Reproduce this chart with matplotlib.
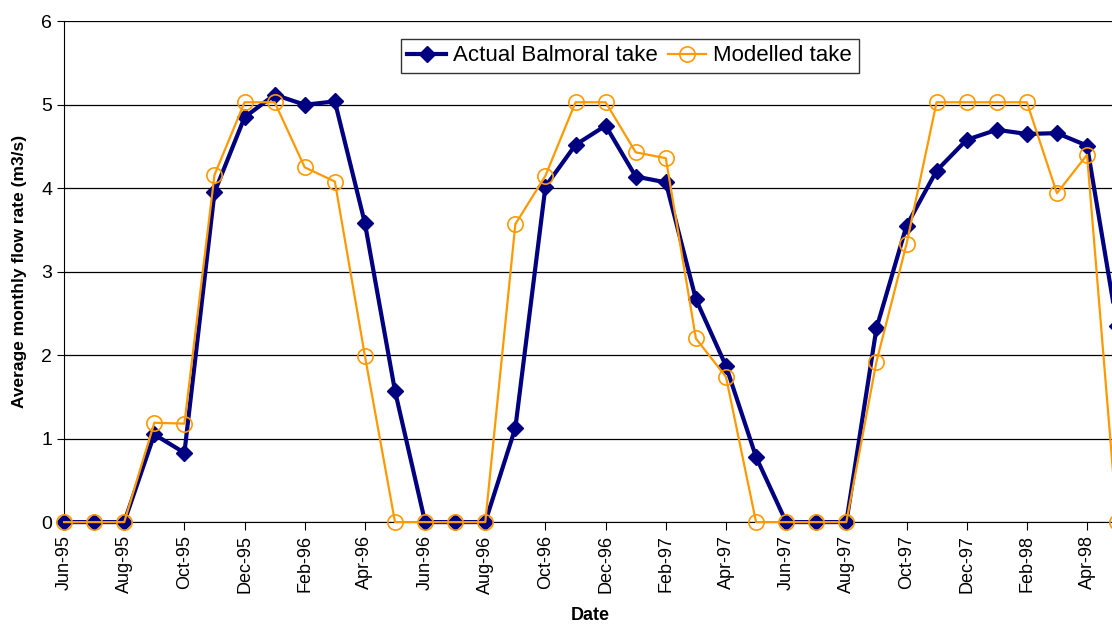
import matplotlib
matplotlib.use('Agg')
import matplotlib.pyplot as plt
import numpy as np

plt.rcParams['font.family'] = ['Liberation Sans', 'DejaVu Sans']

months = ['Jun-95', 'Jul-95', 'Aug-95', 'Sep-95', 'Oct-95', 'Nov-95', 'Dec-95',
          'Jan-96', 'Feb-96', 'Mar-96', 'Apr-96', 'May-96', 'Jun-96', 'Jul-96',
          'Aug-96', 'Sep-96', 'Oct-96', 'Nov-96', 'Dec-96', 'Jan-97', 'Feb-97',
          'Mar-97', 'Apr-97', 'May-97', 'Jun-97', 'Jul-97', 'Aug-97', 'Sep-97',
          'Oct-97', 'Nov-97', 'Dec-97', 'Jan-98', 'Feb-98', 'Mar-98', 'Apr-98',
          'May-98']
actual = [0, 0, 0, 1.05, 0.83, 3.95, 4.85, 5.12, 5.0, 5.04, 3.58, 1.57,
          0, 0, 0, 1.13, 4.02, 4.52, 4.75, 4.14, 4.07, 2.67, 1.87, 0.78,
          0, 0, 0, 2.32, 3.55, 4.21, 4.58, 4.70, 4.65, 4.66, 4.51, 2.35]
modelled = [0, 0, 0, 1.19, 1.18, 4.16, 5.03, 5.03, 4.25, 4.08, 1.99, 0,
            0, 0, 0, 3.57, 4.15, 5.03, 5.03, 4.43, 4.36, 2.20, 1.74, 0,
            0, 0, 0, 1.92, 3.33, 5.03, 5.03, 5.03, 5.03, 3.94, 4.40, 0]

x = np.arange(len(months))

fig = plt.figure(figsize=(11.12, 6.26), dpi=100)
# axes runs a little past the right edge of the figure, as in the original
ax = fig.add_axes([0.0576, 0.166, 0.947, 0.800])

ax.grid(axis='y', color='black', linewidth=0.9)
ax.set_axisbelow(True)

ax.plot(x, actual, color='#000080', linewidth=3, marker='D', markersize=8,
        label='Actual Balmoral take', clip_on=False, zorder=3)
ax.plot(x, modelled, color='#FF9900', linewidth=1.6, marker='o', markersize=11,
        markerfacecolor='none', markeredgewidth=1.2,
        label='Modelled take', clip_on=False, zorder=4)

ax.set_xlim(0, 35)
ax.set_ylim(0, 6)
ax.set_yticks(range(0, 7))
ax.set_xticks(x[::2])
ax.set_xticklabels(months[::2], rotation=90, fontsize=13)
ax.tick_params(axis='y', labelsize=14, length=5)
ax.tick_params(axis='x', length=6)

ax.spines['top'].set_visible(False)
ax.spines['right'].set_visible(False)

ax.set_xlabel('Date', fontsize=13, fontweight='bold', labelpad=10)
ax.set_ylabel('Average monthly flow rate (m3/s)', fontsize=12.5, fontweight='bold', labelpad=10)

leg = ax.legend(loc='upper center', bbox_to_anchor=(0.537, 0.965), ncol=2,
                fontsize=16, frameon=True, fancybox=False, edgecolor='black',
                borderpad=0.3, handlelength=1.75, columnspacing=0.45,
                handletextpad=0.3, borderaxespad=0)
leg.get_frame().set_linewidth(1)

plt.savefig('out.png', dpi=100)
